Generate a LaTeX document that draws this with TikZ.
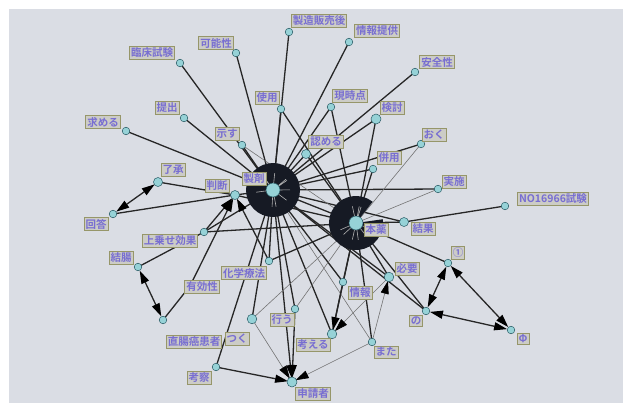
\documentclass[tikz,border=0pt]{standalone}
\usepackage{fontspec}
\newfontfamily\jpfont{Noto Sans CJK JP}[BoldFont={Noto Sans CJK JP Bold}]
\usetikzlibrary{arrows.meta}

\definecolor{bggray}{RGB}{218,221,228}
\definecolor{dotfill}{RGB}{150,210,215}
\definecolor{dotedge}{RGB}{40,90,100}
\definecolor{lblfill}{RGB}{204,204,198}
\definecolor{lbledge}{RGB}{150,150,105}
\definecolor{lbltext}{RGB}{120,110,210}
\definecolor{hubblack}{RGB}{22,26,36}

\tikzset{
  link/.style={black!85, line width=1.3pt},
  faint/.style={black!55, line width=0.6pt},
  tip/.style={-{Triangle[length=13pt,width=8pt,color=black]}, shorten >=4pt},
  tips/.style={{Triangle[length=13pt,width=8pt,color=black]}-{Triangle[length=13pt,width=8pt,color=black]}, shorten >=4pt, shorten <=4pt},
  dot/.style={draw=dotedge, fill=dotfill, line width=0.5pt},
  lbl/.style={draw=lbledge, fill=lblfill, text=lbltext, line width=0.8pt,
    inner sep=1.5pt, font=\jpfont\bfseries\fontsize{10.5}{11}\selectfont},
}

\begin{document}
\begin{tikzpicture}[x=1pt,y=-1pt]
    \useasboundingbox (0,0) rectangle (623,405);
    \fill[white] (0,0) rectangle (623,405);
    \fill[bggray] (9,9) rectangle (623,403);

    \coordinate (yakuzai) at (273,190);
    \coordinate (hon) at (356,223);
    \coordinate (rinsho) at (180,63);
    \coordinate (kanou) at (236,53);
    \coordinate (seizo) at (289,32);
    \coordinate (teikyo) at (349,42);
    \coordinate (anzen) at (415,72);
    \coordinate (shiyo) at (281,109);
    \coordinate (genji) at (331,107);
    \coordinate (kento) at (376,119);
    \coordinate (teishutsu) at (184,118);
    \coordinate (motomeru) at (126,131);
    \coordinate (shimesu) at (242,145);
    \coordinate (mitomeru) at (306,154);
    \coordinate (oku) at (421,144);
    \coordinate (heiyo) at (373,169);
    \coordinate (jisshi) at (438,189);
    \coordinate (ryosho) at (158,182);
    \coordinate (handan) at (235,195);
    \coordinate (kaito) at (113,214);
    \coordinate (uwanose) at (204,232);
    \coordinate (kekka) at (404,222);
    \coordinate (shiken) at (505,206);
    \coordinate (ketcho) at (138,267);
    \coordinate (kagaku) at (269,261);
    \coordinate (yuko) at (190,286);
    \coordinate (chokucho) at (163,320);
    \coordinate (tsuku) at (252,319);
    \coordinate (okonau) at (295,309);
    \coordinate (kangaeru) at (332,334);
    \coordinate (joho) at (343,282);
    \coordinate (hitsuyo) at (389,277);
    \coordinate (mata) at (372,342);
    \coordinate (kosatsu) at (216,367);
    \coordinate (shinsei) at (292,382);
    \coordinate (maru) at (448,263);
    \coordinate (no) at (426,311);
    \coordinate (phi) at (511,330);

    % spokes of the first hub
    \draw[link] (yakuzai)--(rinsho);
    \draw[link] (yakuzai)--(kanou);
    \draw[link] (yakuzai)--(seizo);
    \draw[link] (yakuzai)--(teikyo);
    \draw[link] (yakuzai)--(anzen);
    \draw[link] (yakuzai)--(shiyo);
    \draw[link] (yakuzai)--(genji);
    \draw[link] (yakuzai)--(kento);
    \draw[link] (yakuzai)--(teishutsu);
    \draw[link] (yakuzai)--(motomeru);
    \draw[link] (yakuzai)--(shimesu);
    \draw[link] (yakuzai)--(mitomeru);
    \draw[link] (yakuzai)--(oku);
    \draw[link] (yakuzai)--(heiyo);
    \draw[link] (yakuzai)--(jisshi);
    \draw[link] (yakuzai)--(handan);
    \draw[link] (yakuzai)--(hon);
    \draw[link] (yakuzai)--(kekka);
    \draw[link] (yakuzai)--(uwanose);
    \draw[link] (yakuzai)--(kagaku);
    \draw[link] (yakuzai)--(tsuku);
    \draw[link] (yakuzai)--(okonau);
    \draw[link] (yakuzai)--(kangaeru);
    \draw[link] (yakuzai)--(joho);
    \draw[link] (yakuzai)--(hitsuyo);
    \draw[faint] (yakuzai)--(mata);
    \draw[link] (yakuzai)--(kosatsu);
    \draw[link] (yakuzai)--(no);
    \draw[link,tip] (yakuzai)--(shinsei);

    % spokes of the second hub
    \draw[link] (hon)--(shiyo);
    \draw[link] (hon)--(mitomeru);
    \draw[link] (hon)--(genji);
    \draw[link] (hon)--(kento);
    \draw[link] (hon)--(heiyo);
    \draw[link] (hon)--(kekka);
    \draw[link] (hon)--(maru);
    \draw[link] (hon)--(no);
    \draw[link] (hon)--(hitsuyo);
    \draw[link] (hon)--(joho);
    \draw[link] (hon)--(kangaeru);
    \draw[link] (hon)--(uwanose);
    \draw[link] (hon)--(kagaku);
    \draw[link] (hon)--(handan);
    \draw[link] (hon)--(mata);
    \draw[faint] (hon)--(shimesu);
    \draw[faint] (hon)--(oku);
    \draw[faint] (hon)--(jisshi);
    \draw[faint] (hon)--(tsuku);
    \draw[faint] (hon)--(okonau);

    % other links
    \draw[link] (kekka)--(shiken);
    \draw[link] (ryosho)--(handan);
    \draw[link] (kaito)--(handan);
    \draw[link,tips] (ryosho)--(kaito);
    \draw[link,tip] (uwanose)--(handan);
    \draw[link,tip] (kagaku)--(handan);
    \draw[link,tip] (yuko)--(handan);
    \draw[link] (chokucho)--(yuko);
    \draw[link] (ketcho)--(uwanose);
    \draw[link,tips] (ketcho)--(chokucho);
    \draw[link,tip] (kosatsu)--(shinsei);
    \draw[faint,tip] (tsuku)--(shinsei);
    \draw[link,tip] (okonau)--(shinsei);
    \draw[faint,tip] (mata)--(shinsei);
    \draw[faint,tip] (mata)--(hitsuyo);
    \draw[link,tip] (joho)--(kangaeru);
    \draw[faint,tip] (hitsuyo)--(kangaeru);
    \draw[link,tips] (maru)--(no);
    \draw[link,tips] (maru)--(phi);
    \draw[link,tips] (no)--(phi);

    % hubs
    \fill[hubblack] (yakuzai) circle (27pt);
    \fill[hubblack] (hon) -- ++(52:27pt) arc[start angle=52, end angle=368, radius=27pt] -- cycle;
    \begin{scope}
      \clip (yakuzai) circle (17pt) (hon) circle (17pt);
      \draw[gray!60, line width=0.6pt] (yakuzai)--(rinsho) (yakuzai)--(seizo) (yakuzai)--(anzen)
        (yakuzai)--(kento) (yakuzai)--(jisshi) (yakuzai)--(kagaku) (yakuzai)--(okonau)
        (yakuzai)--(hitsuyo) (yakuzai)--(handan) (yakuzai)--(shimesu);
      \draw[gray!60, line width=0.6pt] (hon)--(genji) (hon)--(heiyo) (hon)--(maru) (hon)--(no)
        (hon)--(mata) (hon)--(joho) (hon)--(kagaku) (hon)--(kento) (hon)--(tsuku);
    \end{scope}

    % dots
    \draw[dot] (yakuzai) circle (7pt);
    \draw[dot] (hon) circle (7pt);
    \draw[dot] (rinsho) circle (3.8pt);
    \draw[dot] (kanou) circle (3.8pt);
    \draw[dot] (seizo) circle (3.8pt);
    \draw[dot] (teikyo) circle (3.8pt);
    \draw[dot] (anzen) circle (3.8pt);
    \draw[dot] (shiyo) circle (3.8pt);
    \draw[dot] (genji) circle (3.8pt);
    \draw[dot] (kento) circle (5pt);
    \draw[dot] (teishutsu) circle (3.8pt);
    \draw[dot] (motomeru) circle (3.8pt);
    \draw[dot] (shimesu) circle (3.8pt);
    \draw[dot] (mitomeru) circle (4.5pt);
    \draw[dot] (oku) circle (3.8pt);
    \draw[dot] (heiyo) circle (3.8pt);
    \draw[dot] (jisshi) circle (3.8pt);
    \draw[dot] (ryosho) circle (4.5pt);
    \draw[dot] (handan) circle (4.5pt);
    \draw[dot] (kaito) circle (3.8pt);
    \draw[dot] (uwanose) circle (3.8pt);
    \draw[dot] (kekka) circle (4.5pt);
    \draw[dot] (shiken) circle (3.8pt);
    \draw[dot] (ketcho) circle (3.8pt);
    \draw[dot] (kagaku) circle (3.8pt);
    \draw[dot] (yuko) circle (3.8pt);
    \draw[dot] (chokucho) circle (3.8pt);
    \draw[dot] (tsuku) circle (4.8pt);
    \draw[dot] (okonau) circle (3.8pt);
    \draw[dot] (kangaeru) circle (4.8pt);
    \draw[dot] (joho) circle (3.8pt);
    \draw[dot] (hitsuyo) circle (4.8pt);
    \draw[dot] (mata) circle (3.8pt);
    \draw[dot] (kosatsu) circle (3.8pt);
    \draw[dot] (shinsei) circle (5pt);
    \draw[dot] (maru) circle (3.8pt);
    \draw[dot] (no) circle (3.8pt);
    \draw[dot] (phi) circle (3.8pt);

    % labels
    \node[lbl] (l-yakuzai) at (254,179) {製剤};
    \node[lbl] (l-hon) at (376,230) {本薬};
    \node[lbl] (l-rinsho) at (152,53) {臨床試験};
    \node[lbl] (l-kanou) at (216,43) {可能性};
    \node[lbl] (l-seizo) at (319,21) {製造販売後};
    \node[lbl] (l-teikyo) at (377,31) {情報提供};
    \node[lbl] (l-anzen) at (437,62) {安全性};
    \node[lbl] (l-shiyo) at (267,98) {使用};
    \node[lbl] (l-genji) at (350,96) {現時点};
    \node[lbl] (l-kento) at (392,108) {検討};
    \node[lbl] (l-teishutsu) at (167,108) {提出};
    \node[lbl] (l-motomeru) at (103,122) {求める};
    \node[lbl] (l-shimesu) at (227,134) {示す};
    \node[lbl] (l-mitomeru) at (326,142) {認める};
    \node[lbl] (l-oku) at (434,135) {おく};
    \node[lbl] (l-heiyo) at (389,158) {併用};
    \node[lbl] (l-jisshi) at (454,182) {実施};
    \node[lbl] (l-ryosho) at (173,170) {了承};
    \node[lbl] (l-handan) at (217,186) {判断};
    \node[lbl] (l-kaito) at (96,224) {回答};
    \node[lbl] (l-uwanose) at (170,241) {上乗せ効果};
    \node[lbl] (l-kekka) at (423,229) {結果};
    \node[lbl] (l-shiken) at (553,199) {NO16966試験};
    \node[lbl] (l-ketcho) at (121,258) {結腸};
    \node[lbl] (l-kagaku) at (244,273) {化学療法};
    \node[lbl] (l-yuko) at (202,287) {有効性};
    \node[lbl] (l-chokucho) at (194,342) {直腸癌患者};
    \node[lbl] (l-tsuku) at (237,339) {つく};
    \node[lbl] (l-okonau) at (282,320) {行う};
    \node[lbl] (l-kangaeru) at (313,345) {考える};
    \node[lbl] (l-joho) at (360,293) {情報};
    \node[lbl] (l-hitsuyo) at (407,269) {必要};
    \node[lbl] (l-mata) at (386,352) {また};
    \node[lbl] (l-kosatsu) at (199,378) {考察};
    \node[lbl] (l-shinsei) at (313,394) {申請者};
    \node[lbl] (l-maru) at (458,253) {①};
    \node[lbl] (l-no) at (416,321) {の};
    \node[lbl] (l-phi) at (523,339) {Φ};
\end{tikzpicture}
\end{document}
